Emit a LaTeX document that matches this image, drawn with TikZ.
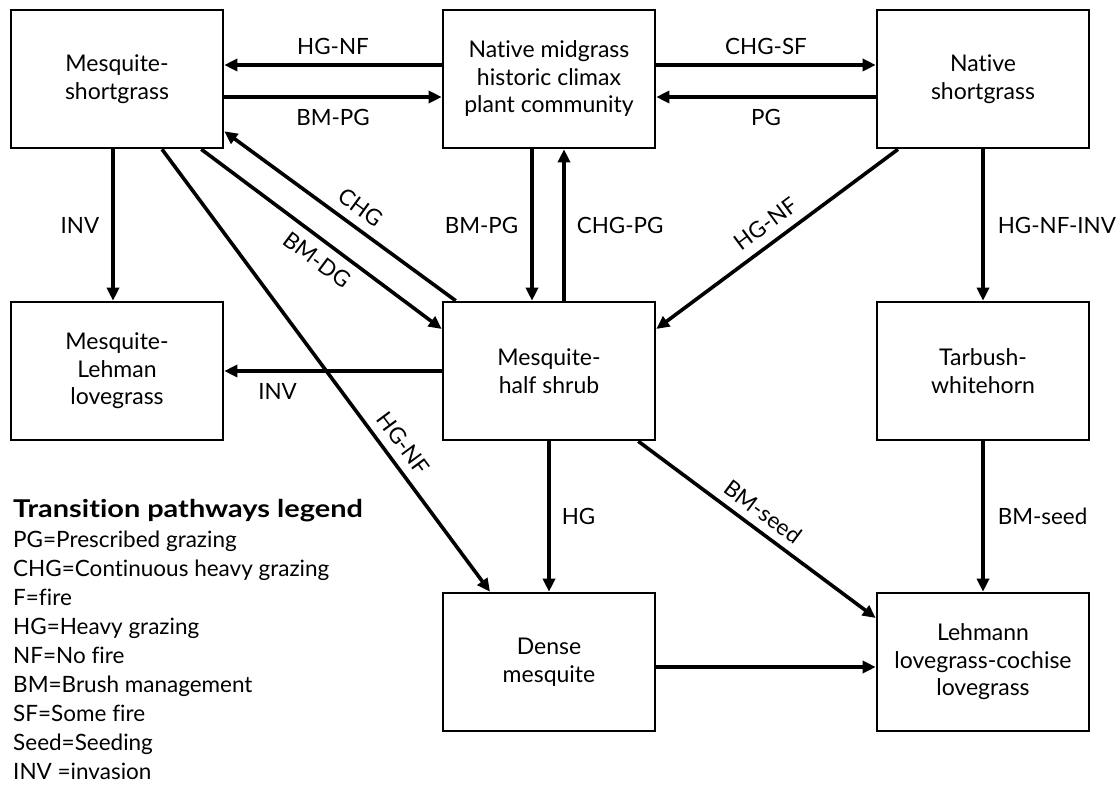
\documentclass[tikz,border=0pt]{standalone}
\usepackage{fontspec}
\setmainfont[Ligatures=NoCommon]{Lato}
\newfontfamily\titlefam[FakeStretch=1.18,Ligatures=NoCommon]{Lato}
\usetikzlibrary{arrows.meta,calc}
\newcommand\boxfont{\fontsize{23}{27.5}\selectfont}
\newcommand\labfont{\fontsize{22.4}{27}\selectfont}
\newcommand\legfont{\fontsize{22.5}{27}\selectfont}
\newcommand\legtitlefont{\titlefam\bfseries\fontsize{24.5}{28}\selectfont}
\begin{document}
\begin{tikzpicture}[x=1pt,y=-1pt,
  box/.style={draw, line width=2.6pt, minimum width=212pt, minimum height=138pt, inner sep=0pt, align=center, font=\boxfont},
  arr/.style={line width=3.6pt, -{Triangle[length=13pt,width=12pt]}},
  rarr/.style={line width=3.6pt, {Triangle[length=13pt,width=12pt]}-},
  lab/.style={font=\labfont, inner sep=0pt},
  leg/.style={anchor=base west, inner sep=0pt, font=\legfont},
]
\useasboundingbox (0,0) rectangle (1118,786);
% boxes
\node[box] (ms)  at (117,79)  {Mesquite-\\shortgrass};
\node[box] (nm)  at (549,79)  {Native midgrass\\historic climax\\plant community};
\node[box] (ns)  at (983,79)  {Native\\shortgrass};
\node[box] (ml)  at (117,371) {Mesquite-\\Lehman\\lovegrass};
\node[box] (mh)  at (549,371) {Mesquite-\\half shrub};
\node[box] (tw)  at (983,371) {Tarbush-\\whitehorn};
\node[box] (dm)  at (549,662) {Dense\\mesquite};
\node[box] (ll)  at (983,662) {Lehmann\\lovegrass-cochise\\lovegrass};
% top row horizontals
\draw[arr] ([yshift=14pt]nm.west) -- node[lab, above=9pt] {HG-NF} ([yshift=14pt]ms.east);
\draw[arr] ([yshift=-18pt]ms.east) -- node[lab, below=10pt] {BM-PG} ([yshift=-18pt]nm.west);
\draw[arr] ([yshift=14pt]nm.east) -- node[lab, above=9pt] {CHG-SF} ([yshift=14pt]ns.west);
\draw[arr] ([yshift=-18pt]ns.west) -- node[lab, below=10pt] {PG} ([yshift=-18pt]nm.east);
% verticals
\draw[arr] ([xshift=-4pt]ms.south) -- node[lab, left=12pt] {INV} ([xshift=-4pt]ml.north);
\draw[arr] ([xshift=-17pt]nm.south) -- node[lab, left=12pt] {BM-PG} ([xshift=-17pt]mh.north);
\draw[arr] ([xshift=15pt]mh.north) -- node[lab, right=11pt] {CHG-PG} ([xshift=15pt]nm.south);
\draw[arr] (ns.south) -- node[lab, right=13pt] {HG-NF-INV} (tw.north);
\draw[arr] (mh.south) -- node[lab, right=11pt] {HG} (dm.north);
\draw[arr] (tw.south) -- node[lab, right=13pt] {BM-seed} (ll.north);
% other horizontals
\draw[arr] (mh.west) -- node[lab, pos=0.755, below=11pt] {INV} (ml.east);
\draw[arr] ([yshift=-5pt]dm.east) -- ([yshift=-5pt]ll.west);
% diagonals
\draw[rarr] ([yshift=18pt]ms.south east) -- node[lab, sloped, pos=0.54, above=9pt] {CHG} ([xshift=14pt]mh.north west);
\draw[arr] ([xshift=-23pt]ms.south east) -- node[lab, sloped, pos=0.53, below=9pt] {BM-DG} ([yshift=42pt]mh.west);
\draw[rarr] ([yshift=42pt]mh.east) -- node[lab, sloped, pos=0.5, above=9pt] {HG-NF} ([xshift=-85pt]ns.south);
\draw[arr] ([xshift=45pt]ms.south) -- node[lab, sloped, pos=0.69, above=9pt] {HG-NF} ([xshift=-59pt]dm.north);
\draw[arr] ([xshift=-18pt]mh.south east) -- node[lab, sloped, pos=0.48, above=8pt] {BM-seed} ([yshift=44pt]ll.west);
% legend
\node[anchor=base west, inner sep=0pt, font=\legtitlefont] (legtitle) at (13,517) {Transition pathways legend};
\foreach \t [count=\i] in {PG=Prescribed grazing, CHG=Continuous heavy grazing, F=fire, HG=Heavy grazing, NF=No fire, BM=Brush management, SF=Some fire, Seed=Seeding, INV =invasion}
  \node[leg] (leg\i) at (13,{517.9+29.1*\i}) {\t};
\end{tikzpicture}
\end{document}
